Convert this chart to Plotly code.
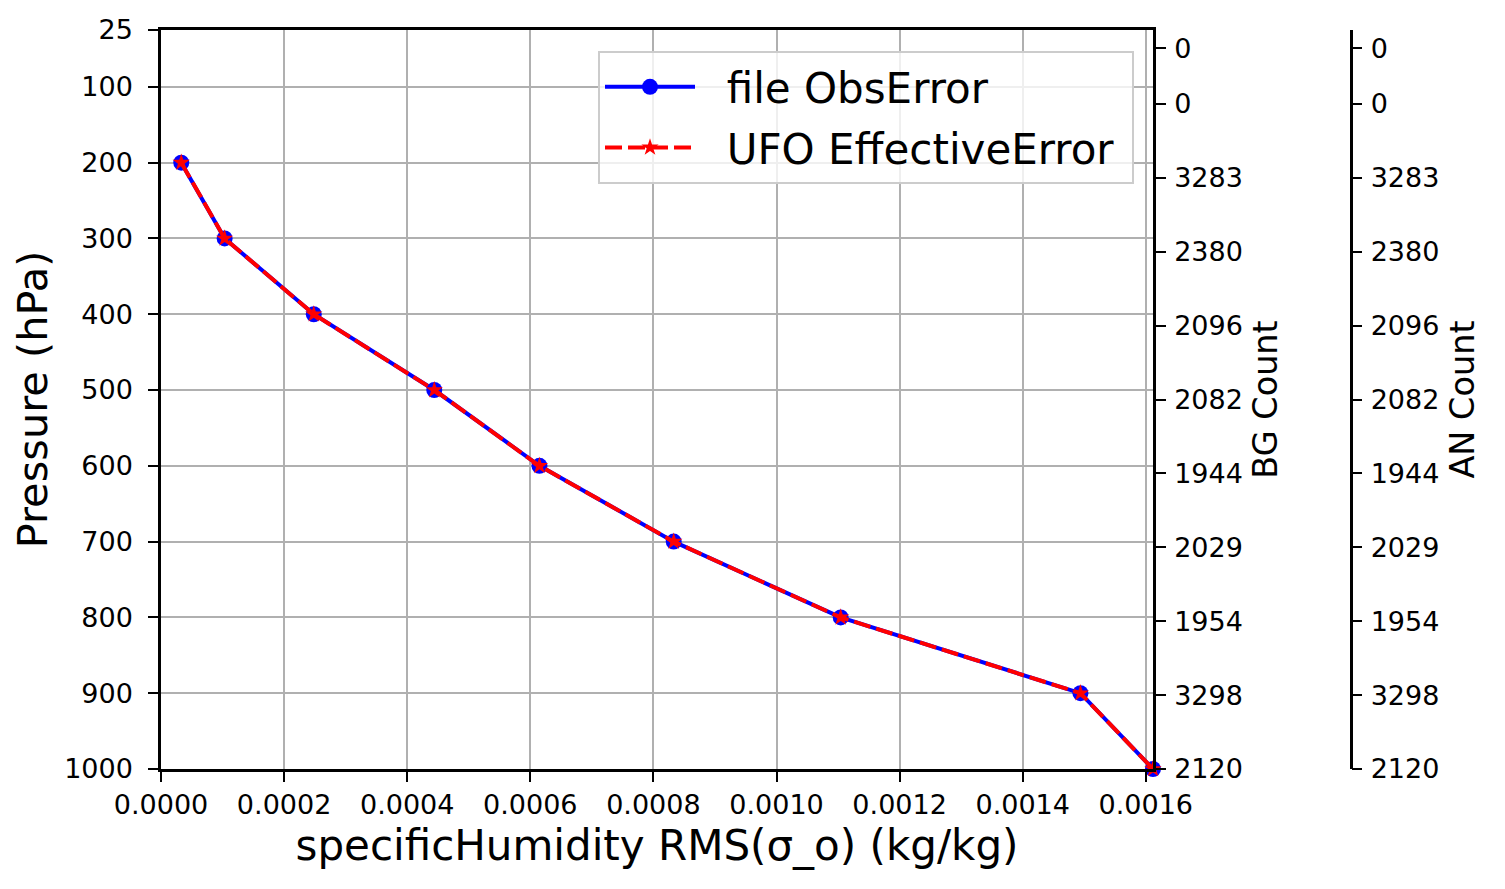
import plotly.graph_objects as go

# ---- data ----
tick_pressure = [25, 100, 200, 300, 400, 500, 600, 700, 800, 900, 1000]
bg_count = [0, 0, 3283, 2380, 2096, 2082, 1944, 2029, 1954, 3298, 2120]
an_count = [0, 0, 3283, 2380, 2096, 2082, 1944, 2029, 1954, 3298, 2120]

levels = [200, 300, 400, 500, 600, 700, 800, 900, 1000]
file_obs_error = [0.0000329, 0.0001034, 0.0002482, 0.000444, 0.0006149,
                  0.000833, 0.0011043, 0.0014938, 0.0016117]
ufo_effective_error = [0.0000329, 0.0001034, 0.0002482, 0.000444, 0.0006149,
                       0.000833, 0.0011043, 0.0014938, 0.0016117]

FONT = "DejaVu Sans"
W, H = 1505, 889
OFF = 8  # page body margin
PL, PR, PT, PB = 161, 1400, 30, 769   # target plot-area edges in page pixels
ML = PL - OFF
MT = PT - OFF
MR = W - (PR - OFF)
MB = H - (PB - OFF)
plot_w = PR - PL
plot_h = PB - PT
x_dom_end = (1153 - PL) / plot_w
an_pos = (1350.5 - PL) / plot_w

xmax = max(file_obs_error)

fig = go.Figure()
fig.add_trace(go.Scatter(
    x=file_obs_error, y=levels, name="&nbsp;&nbsp;file ObsError", mode="lines+markers",
    line=dict(color="#0000ff", width=4),
    marker=dict(symbol="circle", size=16, color="#0000ff", line=dict(width=0)),
    cliponaxis=False, legendgroup="a",
))
fig.add_trace(go.Scatter(
    x=ufo_effective_error, y=levels, name="&nbsp;&nbsp;UFO EffectiveError&nbsp;",
    mode="lines+markers",
    line=dict(color="#ff0000", width=4, dash="17px,6px"),
    marker=dict(symbol="star", size=13, color="#ff0000", line=dict(width=0)),
    cliponaxis=False, legendgroup="b",
))
# invisible traces to activate the count axes
fig.add_trace(go.Scatter(x=[xmax] * len(tick_pressure), y=tick_pressure, yaxis="y2",
                         mode="markers", marker=dict(opacity=0), showlegend=False,
                         hoverinfo="skip"))
fig.add_trace(go.Scatter(x=[xmax] * len(tick_pressure), y=tick_pressure, yaxis="y3",
                         mode="markers", marker=dict(opacity=0), showlegend=False,
                         hoverinfo="skip"))

tickfont = dict(family=FONT, size=27, color="black")

fig.update_layout(
    width=W, height=H,
    margin=dict(l=ML, r=MR, t=MT, b=MB),
    paper_bgcolor="white", plot_bgcolor="white",
    font=dict(family=FONT, color="black"),
    showlegend=True,
    legend=dict(
        x=(598 - PL) / plot_w, y=1 - (51 - PT) / plot_h,
        xanchor="left", yanchor="top",
        font=dict(family=FONT, size=42, color="black"),
        bgcolor="rgba(255,255,255,0.8)", bordercolor="#cccccc", borderwidth=2,
        itemwidth=90, tracegroupgap=3,
    ),
    xaxis=dict(
        domain=[0, x_dom_end], range=[0, xmax], tick0=0, dtick=0.0002,
        tickformat=".4f", tickfont=tickfont,
        showline=True, linecolor="black", linewidth=2.5, mirror=True,
        ticks="outside", ticklen=10, tickwidth=2, tickcolor="black",
        showgrid=True, gridcolor="#b0b0b0", gridwidth=2, zeroline=False,
        title=dict(text="specificHumidity RMS(σ_o) (kg/kg)",
                   font=dict(family=FONT, size=42, color="black"), standoff=12),
        automargin=False,
    ),
    yaxis=dict(
        range=[1000, 25], tickmode="array", tickvals=tick_pressure,
        ticktext=[str(p) for p in tick_pressure], tickfont=tickfont,
        showline=True, linecolor="black", linewidth=2.5,
        ticks="outside", ticklen=10, tickwidth=2, tickcolor="black",
        ticklabelstandoff=10,
        showgrid=True, gridcolor="#b0b0b0", gridwidth=2, zeroline=False,
        title=dict(text="Pressure (hPa)",
                   font=dict(family=FONT, size=41.5, color="black"), standoff=4),
        automargin=False,
    ),
    yaxis2=dict(
        overlaying="y", side="right", anchor="x",
        range=[1000, 0], tickmode="array", tickvals=tick_pressure,
        ticktext=[str(c) for c in bg_count], tickfont=tickfont,
        showline=True, linecolor="black", linewidth=2.5,
        ticks="outside", ticklen=10, tickwidth=2, tickcolor="black",
        ticklabelstandoff=3,
        showgrid=False, zeroline=False,
        title=dict(text="BG Count", font=dict(family=FONT, size=33.5, color="black"),
                   standoff=12),
        automargin=False,
    ),
    yaxis3=dict(
        overlaying="y", side="right", anchor="free", position=an_pos,
        range=[1000, 0], tickmode="array", tickvals=tick_pressure,
        ticktext=[str(c) for c in an_count], tickfont=tickfont,
        showline=True, linecolor="black", linewidth=2.5,
        ticks="outside", ticklen=10, tickwidth=2, tickcolor="black",
        ticklabelstandoff=3,
        showgrid=False, zeroline=False,
        title=dict(text="AN Count", font=dict(family=FONT, size=33.5, color="black"),
                   standoff=12),
        automargin=False,
    ),
)

fig.write_html("out.html")
